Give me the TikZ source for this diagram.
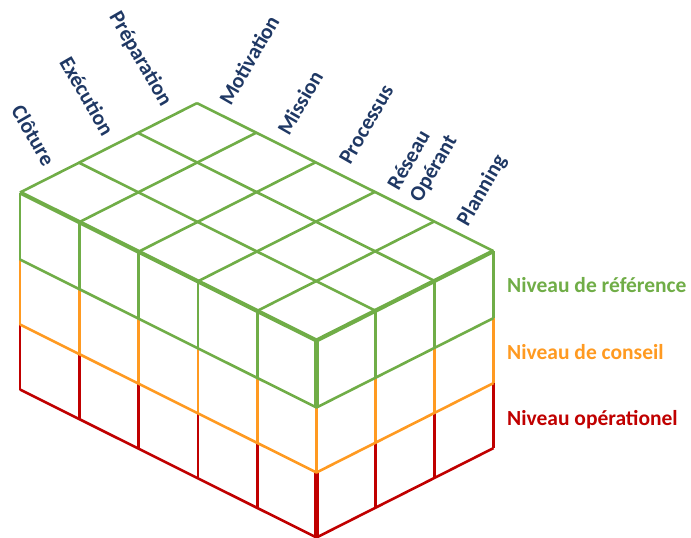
\documentclass[tikz,border=0pt]{standalone}
\usepackage{fontspec}
\setmainfont{Carlito}
\usetikzlibrary{calc}
\definecolor{cgreen}{HTML}{70AD47}
\definecolor{corange}{HTML}{FF9A21}
\definecolor{cred}{HTML}{C00000}
\definecolor{cblue}{HTML}{1F3864}
\begin{document}
\begin{tikzpicture}[x=1pt,y=-1pt,
  gridline/.style={line width=2.6pt, line join=round},
  thickline/.style={line width=4.2pt, line join=round},
  toplabel/.style={font=\fontsize{21.5}{25}\selectfont\bfseries, text=cblue, inner sep=0pt},
  levellabel/.style={font=\fontsize{21.5}{25}\selectfont\bfseries, inner sep=0pt, anchor=base west}]
\useasboundingbox (0,0) rectangle (691,538);
\foreach \i in {0,...,5}
  \foreach \j in {0,...,3}
    \foreach \k/\d in {0/0,1/67,2/132,3/197}
      \coordinate (p\i\j\k) at (20+59.3*\i+59*\j, 192.5+29.6*\i-29.8*\j+\d);
% red level
\foreach \i in {0,...,5} \draw[gridline,cred] (p\i02) -- (p\i03);
\foreach \j in {1,2,3} \draw[gridline,cred] (p5\j2) -- (p5\j3);
\draw[gridline,cred] (p003) -- (p503) -- (p533);
\draw[thickline,cred] (p502) -- (p503);
% orange level
\foreach \i in {0,...,5} \draw[gridline,corange] (p\i01) -- (p\i02);
\foreach \j in {1,2,3} \draw[gridline,corange] (p5\j1) -- (p5\j2);
\draw[gridline,corange] (p002) -- (p502) -- (p532);
% green level
\foreach \i in {0,...,5} \draw[gridline,cgreen] (p\i00) -- (p\i01);
\foreach \j in {1,2,3} \draw[gridline,cgreen] (p5\j0) -- (p5\j1);
\draw[gridline,cgreen] (p001) -- (p501) -- (p531);
\foreach \i in {0,...,5} \draw[gridline,cgreen] (p\i00) -- (p\i30);
\foreach \j in {0,...,3} \draw[gridline,cgreen] (p0\j0) -- (p5\j0);
\draw[thickline,cgreen] (p000) -- (p500) -- (p530);
\draw[thickline,cgreen] (p500) -- (p501);
% left labels
\node[toplabel, rotate=-60, anchor=base east] (cloture) at ($(p000)!0.5!(p010)+(-6,-10)$) {Clôture};
\node[toplabel, rotate=-60, anchor=base east] (execution) at ($(p010)!0.5!(p020)+(-6,-10)$) {Exécution};
\node[toplabel, rotate=-60, anchor=base east] (preparation) at ($(p020)!0.5!(p030)+(-6,-10)$) {Préparation};
% right labels
\node[toplabel, rotate=60, anchor=base west] (motivation) at ($(p030)!0.5!(p130)+(4,-11)$) {Motivation};
\node[toplabel, rotate=60, anchor=base west] (mission) at ($(p130)!0.5!(p230)+(3,-11)$) {Mission};
\node[toplabel, rotate=60, anchor=base west] (processus) at ($(p230)!0.5!(p330)+(5,-11)$) {Processus};
\node[toplabel, rotate=60, anchor=base west] (operant) at ($(p330)!0.5!(p430)+(16,-3)$) {Opérant};
\node[toplabel, rotate=60, anchor=base west] (reseau) at ($(p330)!0.5!(p430)+(-6,-15.5)$) {Réseau};
\node[toplabel, rotate=60, anchor=base west] (planning) at ($(p430)!0.5!(p530)+(4,-9)$) {Planning};
% level labels
\node[levellabel, text=cgreen] (ref) at (507,292) {Niveau de référence};
\node[levellabel, text=corange] (conseil) at (507,359) {Niveau de conseil};
\node[levellabel, text=cred] (oper) at (507,425) {Niveau opérationel};
\end{tikzpicture}
\end{document}
